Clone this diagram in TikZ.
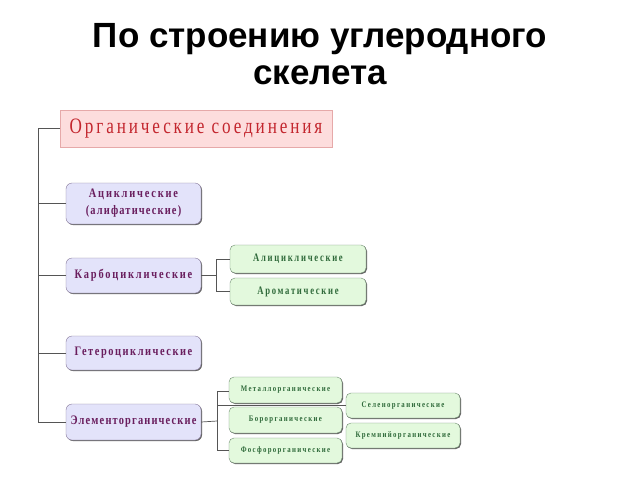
\documentclass[tikz,border=0pt]{standalone}
\usepackage{fontspec}
\setmainfont{Liberation Serif}
\newfontfamily\titlefont{Liberation Sans}
\newfontfamily\rootfont[LetterSpace=13,FakeStretch=0.78]{Liberation Serif}
\newfontfamily\purfont[LetterSpace=14,FakeStretch=0.8]{Liberation Serif}
\newfontfamily\purtightfont[LetterSpace=9,FakeStretch=0.8]{Liberation Serif}
\newfontfamily\purmidfont[LetterSpace=12,FakeStretch=0.8]{Liberation Serif}
\newfontfamily\purnarrowfont[LetterSpace=9,FakeStretch=0.8]{Liberation Serif}
\newfontfamily\grnfont[LetterSpace=15,FakeStretch=0.75]{Liberation Serif}
\newfontfamily\smgrnfont[LetterSpace=16,FakeStretch=0.8]{Liberation Serif}
\usetikzlibrary{shadows}
\definecolor{pinkfill}{HTML}{FDDDDD}
\definecolor{pinkline}{HTML}{E6A9A9}
\definecolor{rootred}{HTML}{C3262E}
\definecolor{purfill}{HTML}{E3E3FA}
\definecolor{purline}{HTML}{86789A}
\definecolor{purtext}{HTML}{6A1E5E}
\definecolor{grnfill}{HTML}{E3F9DD}
\definecolor{grnline}{HTML}{6F8C70}
\definecolor{grntext}{HTML}{2F6A3A}
\definecolor{conn}{HTML}{555555}
\tikzset{
  rootbox/.style={draw=pinkline, fill=pinkfill, minimum width=272pt, minimum height=37pt, inner sep=0pt,
    drop shadow={shadow xshift=1pt, shadow yshift=0pt, fill=black!70, opacity=1},
    text=rootred, font=\rootfont\fontsize{22}{24}\selectfont},
  purbox/.style={draw=purline, fill=purfill, rounded corners=6pt, minimum width=135pt, inner sep=0pt,
    drop shadow={shadow xshift=1pt, shadow yshift=-1pt, fill=black!60, opacity=1},
    text=purtext, align=center, font=\purfont\bfseries\fontsize{13}{17}\selectfont},
  grnbox/.style={draw=grnline, fill=grnfill, rounded corners=5pt, inner sep=0pt,
    drop shadow={shadow xshift=1pt, shadow yshift=-1pt, fill=black!60, opacity=1},
    text=grntext, font=\grnfont\bfseries\fontsize{11.5}{13}\selectfont},
  smallgrn/.style={grnbox, minimum width=113pt, minimum height=25pt, font=\smgrnfont\bfseries\fontsize{8.5}{10}\selectfont},
  conline/.style={draw=conn, line width=0.7pt}
}
\begin{document}
\begin{tikzpicture}[x=1pt,y=-1pt]
\useasboundingbox[fill=white] (0,0) rectangle (640,480);
\node[font=\titlefont\bfseries\fontsize{35}{37}\selectfont, align=center, inner sep=0pt] (title) at (320,54)
  {По строению углеродного\\скелета};
\node[rootbox] (root) at (196,128.5) {Органические соединения};
\node[purbox, minimum height=41pt] (acyc) at (133.5,203.5) {Ациклические\\{\purnarrowfont\bfseries(алифатические)}};
\node[purbox, minimum height=35pt] (carbo) at (133.5,275.5) {Карбоциклические};
\node[purbox, minimum height=34pt, font=\purmidfont\bfseries\fontsize{13}{17}\selectfont] (hetero) at (133.5,353) {Гетероциклические};
\node[purbox, minimum height=36pt, font=\purtightfont\bfseries\fontsize{13}{17}\selectfont] (elem) at (133.5,422) {Элементорганические};
\node[grnbox, minimum width=136pt, minimum height=28pt] (alic) at (298,259) {Алициклические};
\node[grnbox, minimum width=136pt, minimum height=27pt] (arom) at (298,291.5) {Ароматические};
\node[smallgrn, minimum height=26pt] (metal) at (285.5,390) {Металлорганические};
\node[smallgrn, minimum height=26pt] (boro) at (285.5,420) {Борорганические};
\node[smallgrn] (phos) at (285.5,450.5) {Фосфорорганические};
\node[smallgrn, minimum width=114pt] (selen) at (403,405.5) {Селенорганические};
\node[smallgrn, minimum width=114pt] (krem) at (403,435.5) {Кремнийорганические};
\coordinate (t1) at (38,128.5);
\coordinate (t5) at (38,422);
\draw[conline] (root.west) -- (t1) -- (t5) -- (elem.west);
\draw[conline] (acyc.west) -- (acyc.west -| t1);
\draw[conline] (carbo.west) -- (carbo.west -| t1);
\draw[conline] (hetero.west) -- (hetero.west -| t1);
\coordinate (c1) at (216,275.5);
\draw[conline] (carbo.east) -- (c1);
\draw[conline] (alic.west) -- (alic.west -| c1) -- (arom.west -| c1) -- (arom.west);
\coordinate (e1) at (217,421);
\coordinate (e0) at (217,391);
\coordinate (e2) at (217,450);
\draw[conline] (elem.east) -- (e1);
\draw[conline] (e0) -- (e2) -- (phos.west |- e2);
\draw[conline] (e0) -- (metal.west |- e0);
\draw[conline] (e1 |- selen.west) -- (selen.west);
\end{tikzpicture}
\end{document}
